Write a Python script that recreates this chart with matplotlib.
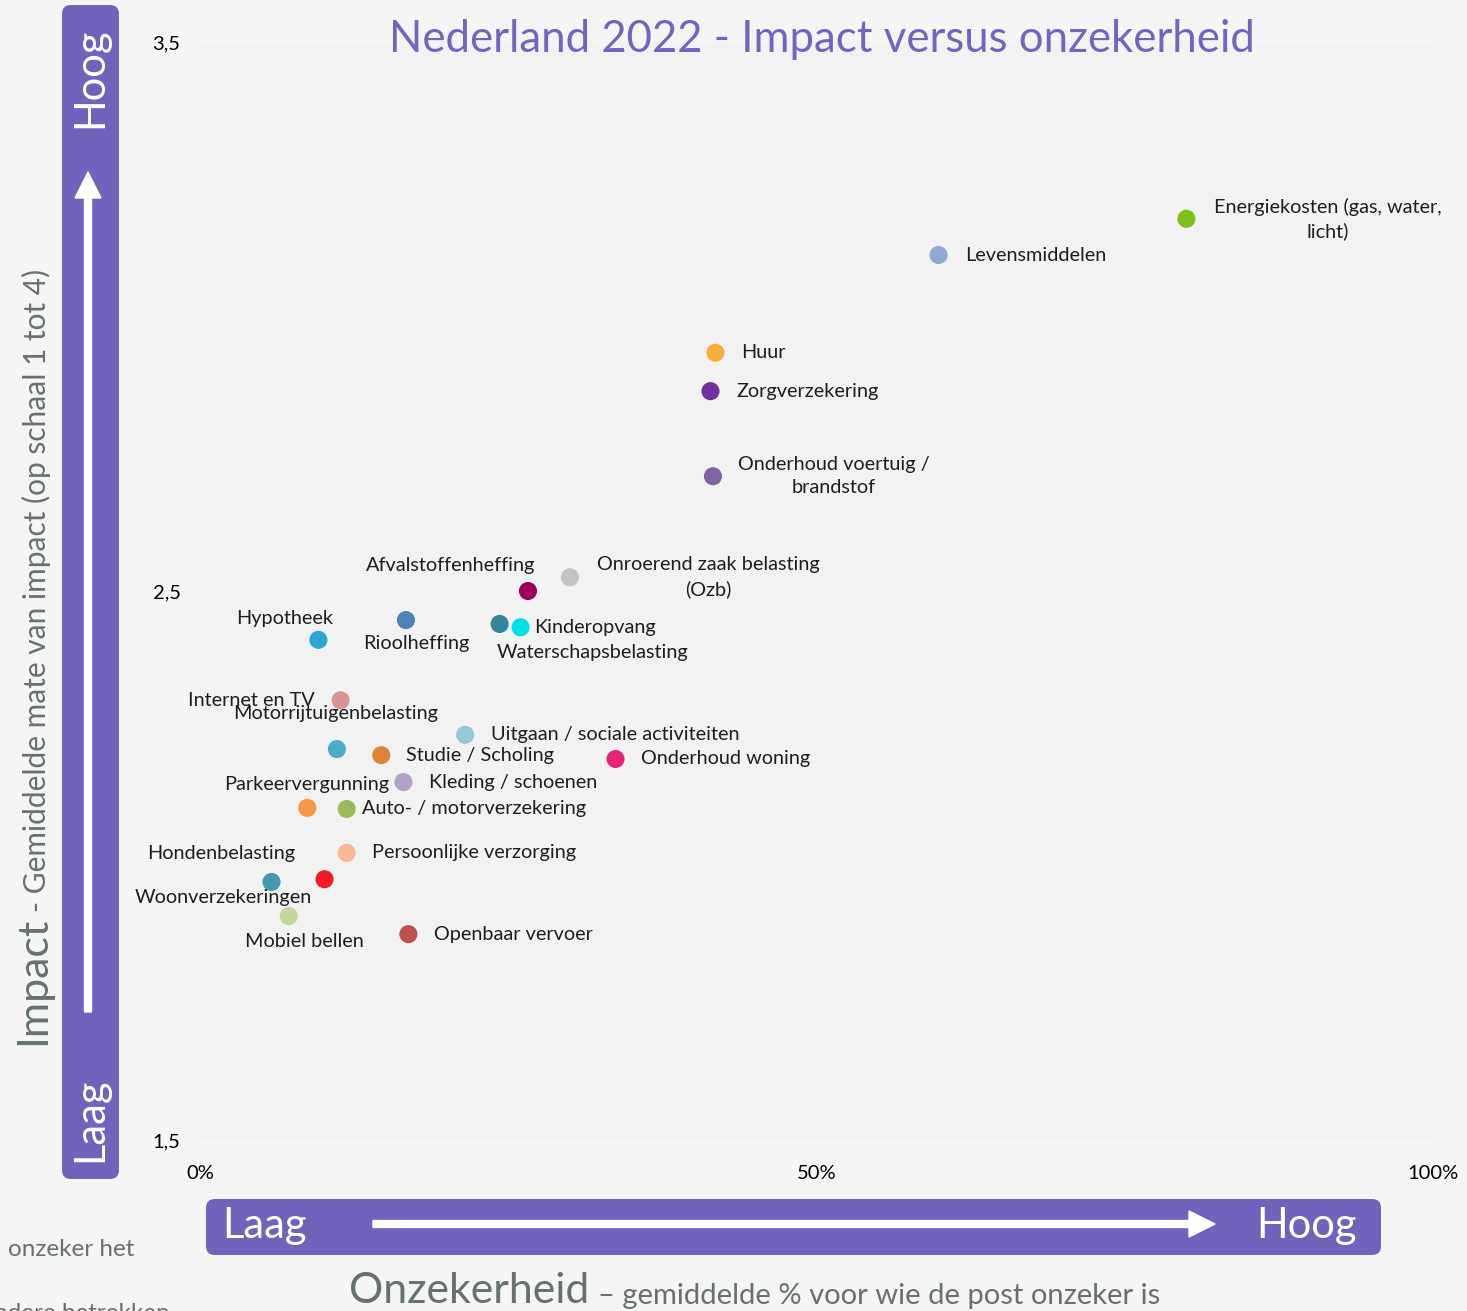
import matplotlib.pyplot as plt
from matplotlib.patches import FancyBboxPatch

plt.rcParams['font.family'] = ['Lato', 'DejaVu Sans']

# posten, onzekerheid (%), impact (schaal 1 tot 4)
posten = ["Energiekosten (gas, water,\nlicht)", "Levensmiddelen", "Huur", "Zorgverzekering",
          "Onderhoud voertuig /\nbrandstof", "Onroerend zaak belasting\n(Ozb)", "Afvalstoffenheffing",
          "Rioolheffing", "Waterschapsbelasting", "Kinderopvang", "Hypotheek", "Internet en TV",
          "Uitgaan / sociale activiteiten", "Motorrijtuigenbelasting", "Studie / Scholing",
          "Onderhoud woning", "Kleding / schoenen", "Parkeervergunning", "Auto- / motorverzekering",
          "Persoonlijke verzorging", "Hondenbelasting", "Woonverzekeringen", "Mobiel bellen",
          "Openbaar vervoer"]
onzekerheid = [80.0, 59.9, 41.8, 41.4, 41.6, 30.0, 26.6, 16.7, 24.3, 26.0, 9.6, 11.4,
               21.5, 11.1, 14.7, 33.7, 16.5, 8.7, 11.9, 11.9, 10.1, 5.8, 7.2, 16.9]
impact = [3.178, 3.112, 2.934, 2.864, 2.709, 2.525, 2.500, 2.447, 2.440, 2.434, 2.411, 2.301,
          2.238, 2.212, 2.201, 2.194, 2.152, 2.105, 2.103, 2.023, 1.975, 1.970, 1.908, 1.875]
kleuren = ['#7ebf1a', '#8fa8d6', '#f9ad3c', '#7030a0', '#8064a2', '#c4c4c4', '#a0005a',
           '#4f81bd', '#31859c', '#00e0e6', '#2ea6d4', '#d99594', '#93c9d9', '#4bacc6',
           '#dd863a', '#e8237a', '#b3a2c7', '#f79646', '#9bbb59', '#fbb896', '#ee1c25',
           '#4199b4', '#c3d69b', '#c0504d']
# label verschuiving in pixels (dx, dy omhoog, uitlijning)
label_pos = [(141, 0, 'center'), (27, 0, 'left'), (26, 0, 'left'), (26, 0, 'left'),
             (121, 0, 'center'), (138, 0, 'center'), (-77, 26, 'center'), (10, -23, 'center'),
             (93, -29, 'center'), (14, 0, 'left'), (-34, 21, 'center'), (-26, 0, 'right'),
             (26, 0, 'left'), (-1, 36, 'center'), (25, 0, 'left'), (25, 0, 'left'),
             (26, 0, 'left'), (-1, 23, 'center'), (15, 0, 'left'), (25, 0, 'left'),
             (-103, 26, 'center'), (-48, -16, 'center'), (16, -25, 'center'), (26, 0, 'left')]

paars = '#7163bb'
grijs = '#67716f'

fig = plt.figure(figsize=(14.67, 13.11), dpi=100, facecolor='#f5f5f5')

# achtergrond-laag in pixels voor balken en pijlen
bg = fig.add_axes([0, 0, 1, 1], zorder=0)
bg.set_xlim(0, 1467)
bg.set_ylim(1311, 0)
bg.axis('off')
bg.patch.set_alpha(0)

bg.add_patch(FancyBboxPatch((62, 5), 57, 1174, boxstyle='round,pad=0,rounding_size=9',
                            fc=paars, ec='none'))
bg.add_patch(FancyBboxPatch((206, 1199), 1175, 56, boxstyle='round,pad=0,rounding_size=9',
                            fc=paars, ec='none'))
bg.arrow(88, 1012, 0, -840, width=7, head_width=26, head_length=26,
         length_includes_head=True, color='white')
bg.arrow(373, 1224, 842, 0, width=7, head_width=26, head_length=26,
         length_includes_head=True, color='white')
bg.text(90, 78, 'Hoog', rotation=90, color='white', fontsize=30, ha='center', va='center')
bg.text(90, 1120, 'Laag', rotation=90, color='white', fontsize=30, ha='center', va='center')
bg.text(264, 1226, 'Laag', color='white', fontsize=30, ha='center', va='center')
bg.text(1306, 1226, 'Hoog', color='white', fontsize=30, ha='center', va='center')

# as-titels
bg.text(33, 1045, 'Impact', rotation=90, color=grijs, fontsize=31, ha='center', va='bottom')
bg.text(36, 912, '- Gemiddelde mate van impact (op schaal 1 tot 4)', rotation=90, color=grijs,
        fontsize=21.5, ha='center', va='bottom')
bg.text(349, 1291, 'Onzekerheid', color=grijs, fontsize=30.8, ha='left', va='center')
bg.text(598, 1296, '– gemiddelde % voor wie de post onzeker is', color=grijs, fontsize=21,
        ha='left', va='center')
bg.text(8, 1249, 'onzeker het', color=grijs, fontsize=17.5, ha='left', va='center')
bg.text(170, 1313, 'andere betrekken', color=grijs, fontsize=17.5, ha='right', va='center')

ax = fig.add_axes([200 / 1467, 1 - 1140 / 1311, 1233 / 1467, 1098 / 1311], zorder=1)
ax.set_facecolor('#f2f2f2')
ax.scatter(onzekerheid, impact, s=170, c=kleuren, linewidths=0, zorder=3)

for naam, x, y, (dx, dy, ha) in zip(posten, onzekerheid, impact, label_pos):
    ax.annotate(naam, (x, y), xytext=(dx, dy), textcoords='offset pixels', ha=ha,
                va='center', multialignment='center', fontsize=14.3, color='#1e1e1e',
                linespacing=1.45)

# titel, bovenop het plotvlak
ax.text(822, 40, 'Nederland 2022 - Impact versus onzekerheid', color='#7464c0', fontsize=31.5,
        ha='center', va='center', transform=bg.transData, clip_on=False, zorder=5)

ax.set_xlim(0, 100)
ax.set_ylim(1.5, 3.5)
ax.set_xticks([0, 50, 100])
ax.set_xticklabels(['0%', '50%', '100%'])
ax.set_yticks([1.5, 2.5, 3.5])
ax.set_yticklabels(['1,5', '2,5', '3,5'])
ax.tick_params(length=0, labelsize=14.5)
ax.tick_params(axis='x', pad=18)
ax.tick_params(axis='y', pad=14)
for s in ax.spines.values():
    s.set_visible(False)

fig.savefig('out.png', dpi=100, facecolor=fig.get_facecolor())
